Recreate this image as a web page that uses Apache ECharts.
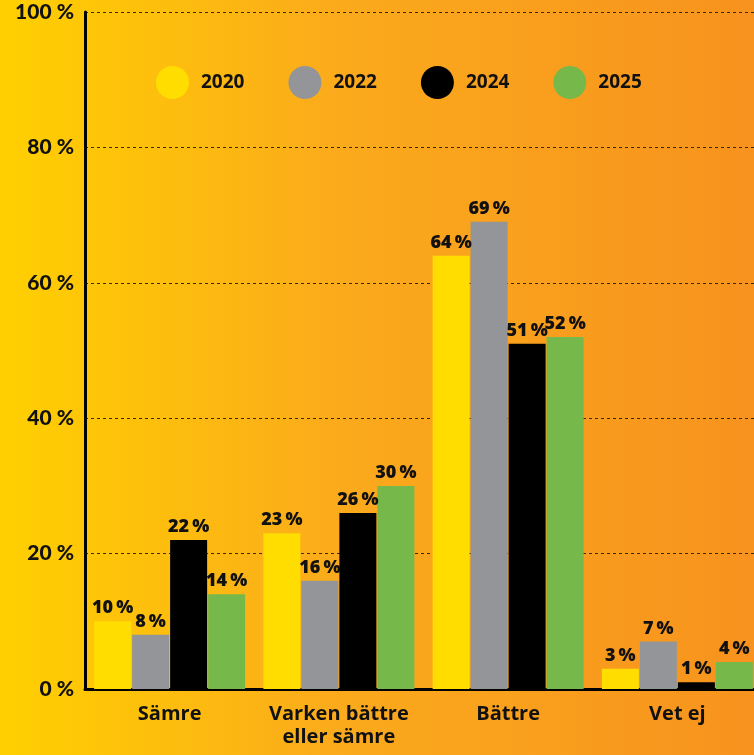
<!DOCTYPE html>
<html>
<head>
<meta charset="utf-8">
<script src="https://cdn.jsdelivr.net/npm/echarts@6/dist/echarts.min.js"></script>
<style>
html,body{margin:0;padding:0;overflow:hidden;width:754px;height:755px;}
#c{width:762px;height:755px;}
</style>
</head>
<body>
<div id="c"></div>
<script>
const categories = ['Sämre', 'Varken bättre\neller sämre', 'Bättre', 'Vet ej'];
const seriesNames = ['2020', '2022', '2024', '2025'];
const values2020 = [10, 23, 64, 3];
const values2022 = [8, 16, 69, 7];
const values2024 = [22, 26, 51, 1];
const values2025 = [14, 30, 52, 4];
const yTicks = [0, 20, 40, 60, 80, 100];

const colors = ['#FFDD00', '#939598', '#000000', '#76B84A'];
const allValues = [values2020, values2022, values2024, values2025];

const chart = echarts.init(document.getElementById('c'), null, {renderer: 'canvas'});
const txt = '#111111';
chart.setOption({
  backgroundColor: new echarts.graphic.LinearGradient(0, 0, 1, 0, [
    {offset: 0, color: '#FFD000'},
    {offset: 0.45, color: '#FBAA1C'},
    {offset: 1, color: '#F7921E'}
  ]),
  animation: false,
  legend: {
    top: 61,
    left: 151,
    itemWidth: 33,
    itemHeight: 35,
    itemGap: 44,
    icon: 'circle',
    data: seriesNames,
    textStyle: {color: txt, fontFamily: 'Open Sans', fontWeight: 'bold', fontSize: 19, padding: [0, 0, 0, 7]}
  },
  grid: {left: 85, right: 0, top: 12, bottom: 66, containLabel: false},
  xAxis: {
    type: 'category',
    data: categories,
    axisLine: {lineStyle: {color: '#000', width: 3}},
    axisTick: {show: false},
    axisLabel: {color: txt, fontFamily: 'Open Sans', fontWeight: 'bold', fontSize: 20, lineHeight: 23, margin: 14, interval: 0}
  },
  yAxis: {
    type: 'value',
    min: 0, max: 100, interval: 20,
    axisLine: {show: true, lineStyle: {color: '#000', width: 3}},
    axisTick: {show: false},
    axisLabel: {color: txt, fontFamily: 'Lato', fontWeight: 900, fontSize: 21, margin: 11,
      formatter: v => yTicks.includes(v) ? v + ' %' : ''},
    splitLine: {lineStyle: {color: '#3a2a10', width: 1, type: [3, 3]}}
  },
  series: seriesNames.map((n, i) => ({
    name: n,
    type: 'bar',
    data: allValues[i],
    barWidth: 37,
    barGap: '2.7%',
    itemStyle: {color: colors[i]},
    label: {show: true, position: 'top', distance: 4, color: txt, fontFamily: 'Open Sans', fontWeight: 800, fontSize: 18,
      formatter: p => p.value + '\u2009%'}
  }))
});
</script>
</body>
</html>
